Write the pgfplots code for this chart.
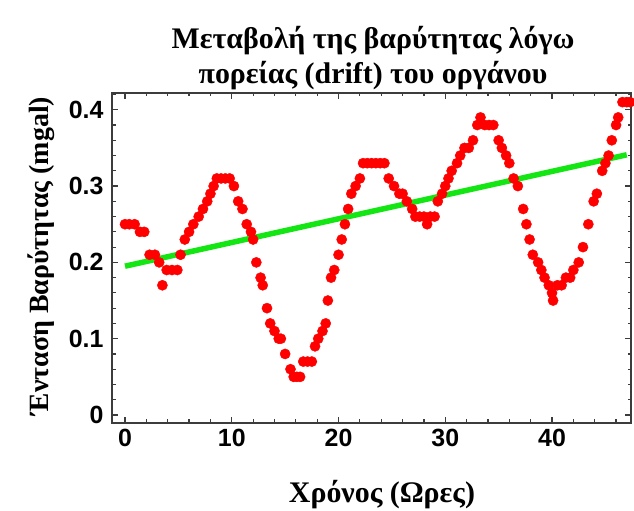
\documentclass[border=0pt]{standalone}
\usepackage{fontspec}
\setmainfont{Liberation Serif}
\newfontfamily\tickfont{Liberation Sans}
\usepackage{pgfplots}
\pgfplotsset{compat=1.18}

% gravity readings (mgal) against time (hours)
\pgfplotstableread{
t g
0.0 0.25
0.4 0.25
0.9 0.25
1.4 0.24
1.8 0.24
2.3 0.21
2.8 0.21
3.2 0.20
3.5 0.17
3.9 0.19
4.4 0.19
4.9 0.19
5.2 0.21
5.6 0.23
6.0 0.24
6.4 0.25
6.9 0.26
7.3 0.27
7.7 0.28
8.0 0.29
8.3 0.30
8.6 0.31
9.0 0.31
9.4 0.31
9.8 0.31
10.2 0.30
10.6 0.28
11.0 0.27
11.4 0.25
11.8 0.24
12.0 0.23
12.3 0.20
12.7 0.18
12.9 0.17
13.3 0.14
13.6 0.12
14.0 0.11
14.4 0.10
14.6 0.10
15.0 0.08
15.5 0.06
15.8 0.05
16.1 0.05
16.4 0.05
16.7 0.07
17.1 0.07
17.5 0.07
17.8 0.09
18.1 0.10
18.5 0.11
18.8 0.12
19.0 0.15
19.3 0.18
19.6 0.19
20.0 0.21
20.3 0.23
20.6 0.25
20.9 0.27
21.2 0.29
21.6 0.30
22.0 0.31
22.3 0.33
22.7 0.33
23.1 0.33
23.5 0.33
23.9 0.33
24.3 0.33
24.7 0.31
25.2 0.30
25.7 0.29
26.0 0.29
26.4 0.28
26.9 0.27
27.2 0.26
27.6 0.26
28.0 0.26
28.3 0.25
28.6 0.26
29.0 0.26
29.3 0.28
29.7 0.29
30.0 0.30
30.3 0.31
30.6 0.32
31.1 0.33
31.4 0.34
31.8 0.35
32.2 0.35
32.6 0.36
33.0 0.38
33.3 0.39
33.7 0.38
34.1 0.38
34.5 0.38
35.0 0.36
35.3 0.35
35.7 0.34
36.0 0.33
36.4 0.31
36.8 0.30
37.3 0.27
37.6 0.25
37.9 0.23
38.2 0.21
38.7 0.20
39.0 0.19
39.3 0.18
39.7 0.17
40.0 0.16
40.1 0.15
40.5 0.17
40.9 0.17
41.3 0.18
41.7 0.18
42.0 0.19
42.5 0.20
42.9 0.22
43.4 0.25
43.9 0.28
44.2 0.29
44.7 0.32
45.0 0.33
45.3 0.34
45.6 0.36
46.0 0.38
46.2 0.39
46.6 0.41
47.0 0.41
47.3 0.41
}\gravity

% linear drift trend
\pgfplotstableread{
t g
0.0 0.195
47.0 0.341
}\drift

\definecolor{dotred}{RGB}{255,0,0}
\definecolor{trendgreen}{RGB}{20,230,20}
\definecolor{framegray}{RGB}{60,60,60}

\begin{document}
\begin{tikzpicture}[x=1bp,y=1bp]
\useasboundingbox (0,0) rectangle (634,511);
\begin{axis}[
  at={(112bp,88bp)}, anchor=south west,
  scale only axis,
  width=519bp, height=330bp,
  xmin=-1.22, xmax=47.4,
  ymin=-0.0105, ymax=0.422,
  xtick={0,10,20,30,40},
  ytick={0,0.1,0.2,0.3,0.4},
  yticklabels={0,0.1,0.2,0.3,0.4},
  minor xtick={2,4,6,8,12,14,16,18,22,24,26,28,32,34,36,38,42,44,46},
  minor ytick={0.02,0.04,0.06,0.08,0.12,0.14,0.16,0.18,0.22,0.24,0.26,0.28,0.32,0.34,0.36,0.38,0.42},
  tick align=inside,
  major tick length=6bp, minor tick length=3.5bp,
  tick style={framegray, line width=1.2bp},
  axis line style={framegray, line width=1.5bp},
  /pgf/number format/assume math mode=true,
  tick label style={font=\tickfont\bfseries\fontsize{25}{28}\selectfont},
  xticklabel style={yshift=-3bp},
  yticklabel style={xshift=-5bp},
]
\addplot[trendgreen, line width=5.5bp] table[x=t,y=g] {\drift};
\addplot[only marks, mark=*, mark size=5.1bp, mark options={draw=dotred, fill=dotred}] table[x=t,y=g] {\gravity};
\end{axis}
\node[font=\bfseries\fontsize{30}{35}\selectfont, align=center] at (373,453)
  {Μεταβολή της βαρύτητας λόγω\\πορείας (drift) του οργάνου};
\node[font=\bfseries\fontsize{30}{35}\selectfont] at (382,16) {Χρόνος (Ωρες)};
\node[font=\bfseries\fontsize{28}{32}\selectfont, rotate=90] at (41,255) {Ένταση Βαρύτητας (mgal)};
\end{tikzpicture}
\end{document}
